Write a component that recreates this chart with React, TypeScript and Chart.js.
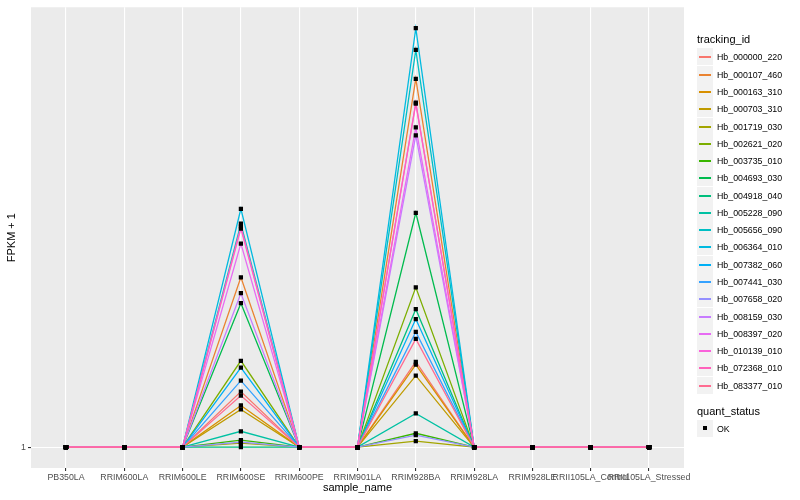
import React, { useEffect, useRef } from "react";
import { Chart, registerables } from "chart.js";

Chart.register(...registerables);

const categories = [
  "PB350LA",
  "RRIM600LA",
  "RRIM600LE",
  "RRIM600SE",
  "RRIM600PE",
  "RRIM901LA",
  "RRIM928BA",
  "RRIM928LA",
  "RRIM928LE",
  "RRII105LA_Control",
  "RRII105LA_Stressed",
];

const trackingIds = [
  "Hb_000000_220",
  "Hb_000107_460",
  "Hb_000163_310",
  "Hb_000703_310",
  "Hb_001719_030",
  "Hb_002621_020",
  "Hb_003735_010",
  "Hb_004693_030",
  "Hb_004918_040",
  "Hb_005228_090",
  "Hb_005656_090",
  "Hb_006364_010",
  "Hb_007382_060",
  "Hb_007441_030",
  "Hb_007658_020",
  "Hb_008159_030",
  "Hb_008397_020",
  "Hb_010139_010",
  "Hb_072368_010",
  "Hb_083377_010",
];

// FPKM + 1 per tracking id, one value per sample (same order as categories)
const fpkmPlusOne: number[][] = [
  [1, 1, 1, 57, 1, 1, 87, 1, 1, 1, 1],
  [1, 1, 1, 172, 1, 1, 372, 1, 1, 1, 1],
  [1, 1, 1, 43, 1, 1, 84, 1, 1, 1, 1],
  [1, 1, 1, 39, 1, 1, 73, 1, 1, 1, 1],
  [1, 1, 1, 5, 1, 1, 7, 1, 1, 1, 1],
  [1, 1, 1, 88, 1, 1, 162, 1, 1, 1, 1],
  [1, 1, 1, 8, 1, 1, 15, 1, 1, 1, 1],
  [1, 1, 1, 146, 1, 1, 237, 1, 1, 1, 1],
  [1, 1, 1, 1, 1, 1, 140, 1, 1, 1, 1],
  [1, 1, 1, 17, 1, 1, 35, 1, 1, 1, 1],
  [1, 1, 1, 226, 1, 1, 401, 1, 1, 1, 1],
  [1, 1, 1, 241, 1, 1, 423, 1, 1, 1, 1],
  [1, 1, 1, 81, 1, 1, 130, 1, 1, 1, 1],
  [1, 1, 1, 68, 1, 1, 117, 1, 1, 1, 1],
  [1, 1, 1, 6, 1, 1, 13, 1, 1, 1, 1],
  [1, 1, 1, 156, 1, 1, 315, 1, 1, 1, 1],
  [1, 1, 1, 206, 1, 1, 323, 1, 1, 1, 1],
  [1, 1, 1, 221, 1, 1, 347, 1, 1, 1, 1],
  [1, 1, 1, 223, 1, 1, 348, 1, 1, 1, 1],
  [1, 1, 1, 53, 1, 1, 110, 1, 1, 1, 1],
];

const yTickValues = [1];
const yTickLabels = ["1"];
const quantStatus = ["OK"];

const palette = [
  "#F8766D", "#EA8331", "#D89000", "#C09B00", "#A3A500",
  "#7CAE00", "#39B600", "#00BB4E", "#00BF7D", "#00C1A3",
  "#00BFC4", "#00BAE0", "#00B0F6", "#35A2FF", "#9590FF",
  "#C77CFF", "#E76BF3", "#FA62DB", "#FF62BC", "#FF6C91",
];

const FONT = "'Liberation Sans', Arial, Helvetica, sans-serif";

const panelBg = {
  id: "panelBg",
  beforeDraw(chart: any) {
    const { ctx, chartArea } = chart;
    if (!chartArea) return;
    ctx.save();
    ctx.fillStyle = "#EBEBEB";
    ctx.fillRect(chartArea.left, chartArea.top, chartArea.right - chartArea.left, chartArea.bottom - chartArea.top);
    ctx.restore();
  },
};

export default function App() {
  const canvasRef = useRef<HTMLCanvasElement | null>(null);

  useEffect(() => {
    document.body.style.margin = "0";
    if (!canvasRef.current) return;
    Chart.defaults.font.family = FONT;

    const lineSets = trackingIds.map((id, i) => ({
      type: "line" as const,
      label: id,
      data: fpkmPlusOne[i].map((v, j) => ({ x: j, y: v })),
      borderColor: palette[i],
      backgroundColor: palette[i],
      borderWidth: 1.3,
      pointRadius: 0,
      tension: 0,
      fill: false,
      order: 100 - i,
    }));

    const pointSet = {
      type: "scatter" as const,
      label: quantStatus[0],
      data: fpkmPlusOne.flatMap((row) => row.map((v, j) => ({ x: j, y: v }))),
      pointStyle: "rect",
      pointRadius: 3,
      pointBackgroundColor: "#000000",
      pointBorderWidth: 0,
      showLine: false,
      order: -10,
    };

    const chart = new Chart(canvasRef.current, {
      type: "line",
      data: { datasets: [...lineSets, pointSet] as any },
      options: {
        animation: false,
        responsive: false,
        devicePixelRatio: 1,
        layout: { padding: { left: 0, right: 116, top: 5, bottom: 0 } },
        plugins: { legend: { display: false }, tooltip: { enabled: false } },
        scales: {
          x: {
            type: "linear",
            min: -0.6,
            max: 10.6,
            afterBuildTicks: (s: any) => {
              s.ticks = categories.map((_, i) => ({ value: i }));
            },
            afterFit: (s: any) => {
              s.height = 32;
            },
            ticks: {
              autoSkip: false,
              maxRotation: 0,
              minRotation: 0,
              padding: 1,
              color: "#4D4D4D",
              font: { size: 8.8, family: FONT },
              callback: (v: any) => categories[v as number] ?? "",
            },
            grid: {
              color: "#FFFFFF",
              lineWidth: 1.1,
              tickColor: "#333333",
              tickLength: 3,
              drawTicks: true,
            },
            border: { display: false },
            title: {
              display: true,
              text: "sample_name",
              color: "#000000",
              font: { size: 11, family: FONT },
              padding: { top: 0, bottom: 5 },
            },
          },
          y: {
            type: "linear",
            min: -20,
            max: 444,
            afterBuildTicks: (s: any) => {
              s.ticks = yTickValues.map((v) => ({ value: v }));
            },
            afterFit: (s: any) => {
              s.width = 31;
            },
            ticks: {
              padding: 2,
              color: "#4D4D4D",
              font: { size: 8.8, family: FONT },
              callback: (v: any) => {
                const k = yTickValues.indexOf(v as number);
                return k >= 0 ? yTickLabels[k] : "";
              },
            },
            grid: {
              color: "#FFFFFF",
              lineWidth: 1.1,
              tickColor: "#333333",
              tickLength: 3,
            },
            border: { display: false },
            title: {
              display: true,
              text: "FPKM + 1",
              color: "#000000",
              font: { size: 11, family: FONT },
              padding: { top: 5, bottom: 0 },
            },
          },
        },
      },
      plugins: [panelBg],
    });

    return () => chart.destroy();
  }, []);

  const keyH = 17.28;
  const firstTop = 48.4;

  return (
    <div style={{ position: "relative", width: 800, height: 500, fontFamily: FONT }}>
      <canvas ref={canvasRef} width={800} height={500} style={{ position: "absolute", left: 0, top: 0 }} />
      <div style={{ position: "absolute", left: 697, top: 32.5, fontSize: 11, lineHeight: "13px", color: "#000" }}>
        tracking_id
      </div>
      {trackingIds.map((id, i) => (
        <div
          key={id}
          style={{
            position: "absolute",
            left: 697,
            top: Math.round(firstTop + i * keyH),
            height: 17,
            display: "flex",
            alignItems: "center",
          }}
        >
          <div style={{ position: "relative", width: 16, height: 17, background: "#F2F2F2" }}>
            <div
              style={{
                position: "absolute",
                left: 2,
                right: 2,
                top: 8,
                height: 1.5,
                background: palette[i],
              }}
            />
          </div>
          <span style={{ marginLeft: 4, fontSize: 8.8, color: "#000", whiteSpace: "nowrap" }}>{id}</span>
        </div>
      ))}
      <div style={{ position: "absolute", left: 697, top: 404.5, fontSize: 11, lineHeight: "13px", color: "#000" }}>
        quant_status
      </div>
      {quantStatus.map((q, i) => (
        <div
          key={q}
          style={{
            position: "absolute",
            left: 697,
            top: Math.round(420.4 + i * keyH),
            height: 17,
            display: "flex",
            alignItems: "center",
          }}
        >
          <div style={{ position: "relative", width: 16, height: 17, background: "#F2F2F2" }}>
            <div
              style={{
                position: "absolute",
                left: 6,
                top: 6,
                width: 4,
                height: 4,
                background: "#000",
              }}
            />
          </div>
          <span style={{ marginLeft: 4, fontSize: 8.8, color: "#000" }}>{q}</span>
        </div>
      ))}
    </div>
  );
}
